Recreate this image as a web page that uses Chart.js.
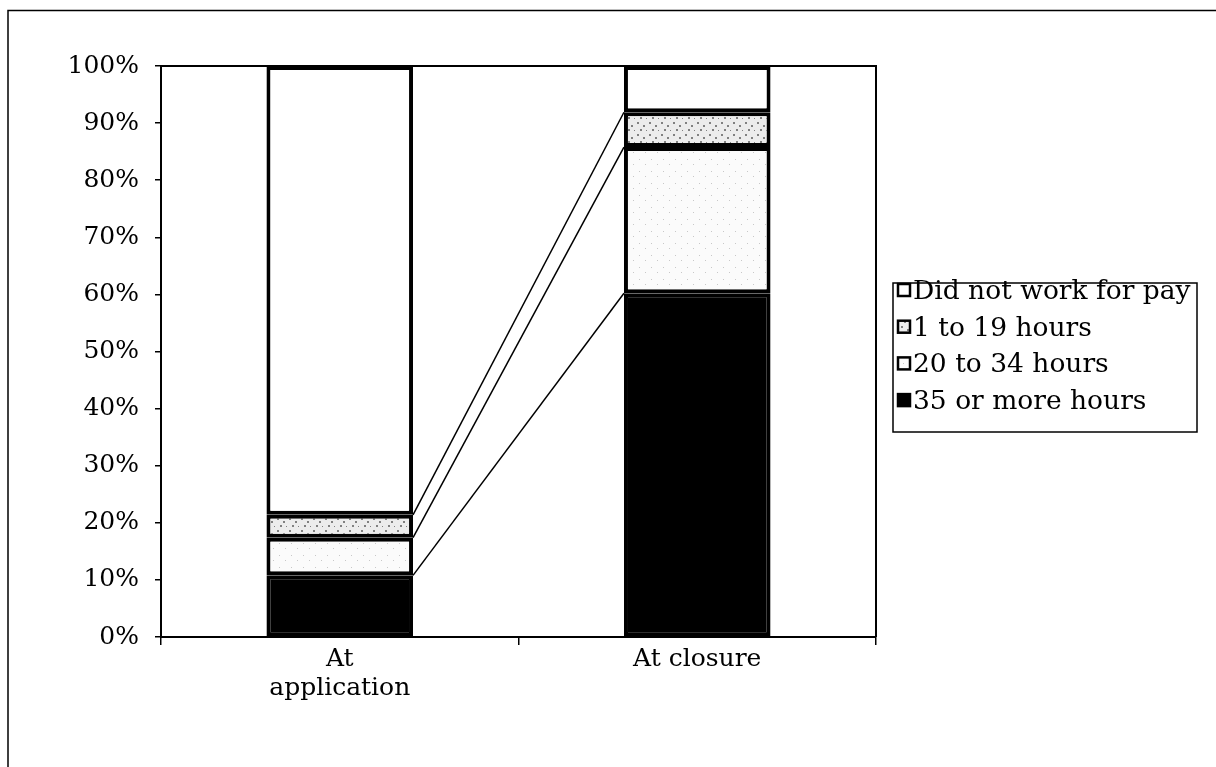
<!DOCTYPE html>
<html>
<head>
<meta charset="utf-8">
<script src="https://cdn.jsdelivr.net/npm/chart.js@4"></script>
<style>
  html, body { margin: 0; padding: 0; background: #fff; }
  canvas { display: block; }
</style>
</head>
<body>
<canvas id="hoursChart" width="1216" height="767"></canvas>
<script>
const categories = [["At", "application"], "At closure"];
const fullTime = [10.8, 60.2];      // 35 or more hours
const partTime = [6.6, 25.6];       // 20 to 34 hours
const fewHours = [4.0, 6.1];        // 1 to 19 hours
const noPay = [78.6, 8.1];          // Did not work for pay
const yTicks = [0, 10, 20, 30, 40, 50, 60, 70, 80, 90, 100];

const FONT = "DejaVu Serif";

// speckled fills, fixed dot layout
function speckle(bg, dot, spots) {
  const c = document.createElement("canvas");
  c.width = 12; c.height = 12;
  const g = c.getContext("2d");
  g.fillStyle = bg;
  g.fillRect(0, 0, 12, 12);
  g.fillStyle = dot;
  spots.forEach(s => g.fillRect(s[0], s[1], s[2], s[2]));
  return g.createPattern(c, "repeat");
}
const ctx = document.getElementById("hoursChart").getContext("2d");
const grey = speckle("#ececec", "#808080", [[1, 2, 2], [7, 5, 2], [4, 9, 2], [10, 10, 1]]);
const light = speckle("#fbfbfb", "#c8c8c8", [[3, 3, 1], [9, 8, 1]]);

const connectors = {
  id: "connectors",
  beforeDraw(chart) {
    const g = chart.ctx;
    g.save();
    g.fillStyle = "#fff";
    g.fillRect(0, 0, chart.width, chart.height);
    g.strokeStyle = "#000";
    g.lineWidth = 1.5;
    g.beginPath();
    g.moveTo(8, 767); g.lineTo(8, 10.5); g.lineTo(1216, 10.5);
    g.stroke();
    g.restore();
  },
  afterDatasetsDraw(chart) {
    const g = chart.ctx;
    const a = chart.chartArea;
    g.save();
    g.strokeStyle = "#000";
    g.lineWidth = 1.5;
    // connecting lines between the segment tops
    for (let i = 0; i < chart.data.datasets.length - 1; i++) {
      const bars = chart.getDatasetMeta(i).data;
      const b0 = bars[0], b1 = bars[1];
      g.beginPath();
      g.moveTo(b0.x + b0.width / 2, b0.y);
      g.lineTo(b1.x - b1.width / 2, b1.y);
      g.stroke();
    }
    // plot area top and right
    g.lineWidth = 2;
    g.beginPath();
    g.moveTo(a.left, a.top); g.lineTo(a.right, a.top); g.lineTo(a.right, a.bottom);
    g.stroke();
    g.restore();
  },
  afterDraw(chart) {
    const g = chart.ctx;
    g.save();
    g.strokeStyle = "#000";
    g.lineWidth = 1.5;
    g.strokeRect(893, 283, 304, 149);
    g.font = "26.5px '" + FONT + "'";
    g.textBaseline = "alphabetic";
    const sets = chart.data.datasets.slice().reverse();
    sets.forEach((ds, i) => {
      const base = 299 + i * 36.7;
      g.fillStyle = ds.backgroundColor;
      g.fillRect(898, base - 15, 12, 12);
      g.lineWidth = 2.5;
      g.strokeRect(898, base - 15, 12, 12);
      g.fillStyle = "#000";
      g.fillText(ds.label, 913, base);
    });
    g.restore();
  }
};

const dsBase = { borderColor: "#000", borderWidth: 4, borderSkipped: false, barPercentage: 0.41, categoryPercentage: 1 };

new Chart(ctx, {
  type: "bar",
  data: {
    labels: categories,
    datasets: [
      { ...dsBase, label: "35 or more hours", data: fullTime, backgroundColor: "#000" },
      { ...dsBase, label: "20 to 34 hours", data: partTime, backgroundColor: light },
      { ...dsBase, label: "1 to 19 hours", data: fewHours, backgroundColor: grey },
      { ...dsBase, label: "Did not work for pay", data: noPay, backgroundColor: "#fff" },
    ],
  },
  options: {
    responsive: false,
    animation: false,
    layout: { padding: { top: 66, right: 340, bottom: 0, left: 0 } },
    plugins: { legend: { display: false }, tooltip: { enabled: false } },
    scales: {
      x: {
        stacked: true,
        afterFit: s => { s.height = 130; },
        grid: { drawOnChartArea: false, offset: true, tickLength: 8, color: "#000", lineWidth: 1.5 },
        border: { color: "#000", width: 2 },
        ticks: { color: "#000", font: { family: FONT, size: 25, lineHeight: 1.15 }, padding: 0, maxRotation: 0 },
      },
      y: {
        stacked: true,
        min: 0,
        max: 100,
        afterFit: s => { s.width = 161; },
        afterBuildTicks: s => { s.ticks = yTicks.map(v => ({ value: v })); },
        grid: { drawOnChartArea: false, tickLength: 6, color: "#000", lineWidth: 1.5 },
        border: { color: "#000", width: 2 },
        ticks: { color: "#000", font: { family: FONT, size: 25 }, padding: 16, callback: v => v + "%" },
      },
    },
  },
  plugins: [connectors],
});
</script>
</body>
</html>
